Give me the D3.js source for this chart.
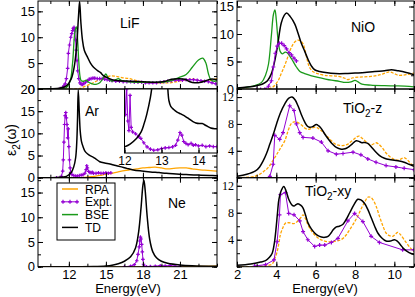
<!DOCTYPE html>
<html>
<head>
<meta charset="utf-8">
<script src="https://cdn.jsdelivr.net/npm/d3@7"></script>
<style>
body { margin: 0; background: #fff; }
svg text { font-family: "Liberation Sans", Arial, sans-serif; fill: #000; }
</style>
</head>
<body>
<div id="chart"></div>
<script>
// ---- data: [energy (eV), eps2] ----
const lifTD = [[9.5,0],[10.5,0.05],[11.3,0.2],[11.8,0.6],[12.2,2],[12.45,4.5],[12.65,9],[12.78,14],[12.87,16.9],[12.97,13],[13.1,9.5],[13.25,7.5],[13.5,6.2],[13.75,5],[14.0,4.2],[14.3,3.6],[14.55,3.2],[14.8,2.6],[15.1,2.2],[15.5,1.8],[16,1.6],[17,1.5],[18,1.4],[19,1.3],[19.8,1.5],[20.3,1.9],[20.9,2.0],[21.4,1.9],[21.8,1.4],[22.2,1.2],[22.7,1.3],[23.1,1.6],[23.5,1.9],[24,1.8]];
const lifBSE = [[9.5,0],[11,0.05],[11.8,0.3],[12.1,1.5],[12.3,5],[12.5,11.2],[12.62,12],[12.72,9],[12.8,5.5],[12.9,2.5],[13.0,1.6],[13.2,1.5],[13.4,1.7],[13.6,1.3],[13.9,1.0],[14.2,0.9],[14.5,1.2],[14.8,2.2],[15.0,2.9],[15.2,2.0],[15.5,1.5],[15.8,1.8],[16.0,2.0],[16.3,1.6],[16.8,1.4],[17.5,1.3],[18.5,1.3],[19.5,1.3],[20.3,1.6],[20.9,2.2],[21.5,2.8],[22.0,4.2],[22.5,5.6],[22.85,5.95],[23.1,5.0],[23.3,3.0],[23.5,1.8],[23.8,1.5],[24,1.6]];
const lifRPA = [[9.5,0],[12.5,0],[12.9,0.1],[13.3,0.5],[13.8,1.0],[14.3,1.6],[14.8,2.1],[15.3,2.5],[15.7,2.5],[16.3,2.2],[16.9,2.0],[17.5,1.6],[18.3,1.3],[19.2,1.2],[20.2,1.2],[20.9,1.5],[21.6,1.8],[22.1,1.9],[22.6,1.6],[23.2,1.5],[23.7,1.8],[24,2.0]];
const lifExpt = [[11.3,0.1],[11.5,0.3],[11.6,0.6],[11.7,1.0],[11.8,2.0],[11.9,4.0],[11.96,6.9],[12.05,8.5],[12.15,10],[12.23,10.7],[12.3,11.3],[12.36,11.7],[12.42,11.9],[12.48,11.2],[12.54,9.5],[12.6,7.5],[12.66,5.5],[12.72,3.5],[12.8,2.0],[12.9,1.2],[13.0,0.9],[13.1,0.9],[13.2,1.0],[13.35,1.3],[13.5,1.6],[13.65,1.9],[13.8,2.0],[13.95,2.1],[14.1,2.1],[14.3,2.0],[14.5,2.0],[14.7,2.0],[14.9,1.9],[15.1,1.8],[15.3,1.7],[15.5,1.6],[15.8,1.5],[16.1,1.5],[16.4,1.4],[16.7,1.4],[17.0,1.4],[17.3,1.3],[17.6,1.3],[17.9,1.3],[18.2,1.2],[18.5,1.2],[18.8,1.2],[19.1,1.2],[19.4,1.3],[19.7,1.4],[20.0,1.5],[20.3,1.6],[20.6,1.7],[20.9,1.7],[21.2,1.7],[21.5,1.8],[21.8,1.8],[22.1,1.8],[22.4,1.7],[22.7,1.6],[23.0,1.5],[23.3,1.4],[23.6,1.2],[23.9,1.0]];

const arTD = [[9.5,0],[11,0.05],[11.8,0.3],[12.2,1.2],[12.4,2.5],[12.55,4.5],[12.64,8],[12.7,13],[12.76,19.8],[12.84,15],[12.92,10.5],[13.02,8.2],[13.15,7.0],[13.3,6.0],[13.5,5.4],[13.75,4.9],[13.98,4.6],[14.2,4.2],[14.5,3.6],[14.9,3.3],[15.33,3.1],[15.7,2.8],[16.15,2.5],[16.7,2.1],[17.22,1.75],[17.9,1.5],[18.6,1.3],[19.3,1.15],[19.9,1.0],[20.7,0.85],[21.5,0.7],[22.5,0.6],[23.4,0.5],[24,0.45]];
const arRPA = [[9.5,0],[13,0],[13.5,0.1],[14,0.3],[14.5,0.5],[15,0.8],[15.5,1.0],[16,1.3],[16.5,1.6],[17,1.8],[17.5,2.0],[18,2.2],[18.5,2.3],[19,2.4],[19.5,2.2],[20,2.0],[20.5,2.1],[21,2.2],[21.5,2.2],[22,2.0],[22.5,1.8],[23,1.7],[23.5,1.6],[24,1.5]];
const arExpt = [[11.0,0],[11.3,0.05],[11.4,0.3],[11.5,1.5],[11.55,4],[11.6,8],[11.65,12],[11.7,14],[11.75,14.7],[11.8,13.5],[11.85,12],[11.9,9],[11.95,11],[12.0,7],[12.05,4],[12.1,2.2],[12.15,1.2],[12.25,0.7],[12.4,0.5],[12.55,0.4],[12.7,0.4],[12.85,0.5],[13.0,0.6],[13.15,0.7],[13.3,1.0],[13.4,1.8],[13.45,2.7],[13.5,2.2],[13.6,1.4],[13.7,1.2],[13.8,1.1],[13.9,1.2],[14.0,1.0],[14.2,1.0],[14.4,1.1],[14.6,1.0],[14.8,1.0],[15.0,1.1],[15.2,1.0],[15.4,1.1]];
// inset of the Ar panel (own vertical scale)
const insetTD = [[12.0,0.95],[12.15,1.4],[12.33,2.3],[12.45,3.3],[12.52,4.4],[12.6,6],[12.7,8.7],[12.76,11],[12.9,15],[13.05,15],[13.15,11.5],[13.2,8.2],[13.25,7.3],[13.33,6.8],[13.42,6.4],[13.52,6.1],[13.65,5.7],[13.75,5.3],[13.85,4.9],[13.93,4.7],[14.02,4.6],[14.1,4.6],[14.2,4.3],[14.33,3.9],[14.45,3.8],[14.55,3.8]];
const insetExpt = [[12.0,11],[12.03,6],[12.06,10],[12.09,5],[12.12,3.5],[12.15,9],[12.18,4],[12.22,3.3],[12.3,3.0],[12.38,2.6],[12.44,2.3],[12.52,1.6],[12.61,0.95],[12.7,0.6],[12.79,0.43],[12.9,0.5],[13.0,0.7],[13.1,0.8],[13.2,0.85],[13.3,0.95],[13.38,1.2],[13.44,2.0],[13.5,3.2],[13.55,2.8],[13.6,1.8],[13.66,1.5],[13.72,1.3],[13.8,1.5],[13.86,1.2],[13.92,1.3],[14.0,1.1],[14.1,1.2],[14.2,1.0],[14.3,1.1],[14.4,1.0],[14.5,1.0]];

const neTD = [[9.5,0],[14,0.05],[15,0.15],[15.5,0.3],[16,0.6],[16.5,1.1],[17,2.0],[17.4,3.8],[17.65,7],[17.85,12],[18.0,16.5],[18.08,17.5],[18.18,15.5],[18.35,10],[18.55,5.5],[18.8,3.0],[19.1,1.8],[19.5,1.1],[20,0.7],[21,0.35],[22,0.2],[24,0.1]];
const neRPA = [[9.5,0],[21,0],[22,0.05],[24,0.1]];
const neExpt = [[16.5,0],[17.0,0.1],[17.3,0.4],[17.5,1.2],[17.6,2.5],[17.7,4],[17.75,5.2],[17.8,6],[17.85,5.6],[17.9,4.5],[17.95,3],[18.0,1.5],[18.05,0.5],[18.1,0.1],[18.3,0],[18.6,0.05],[19.0,0.1],[19.4,0.2],[19.8,0.15],[20.2,0.25],[20.6,0.1],[21.0,0.05]];

const nioTD = [[2,0.2],[2.5,0.35],[3,0.6],[3.3,0.9],[3.55,1.5],[3.75,2.8],[3.9,4.8],[4.05,7.6],[4.25,12],[4.4,13.4],[4.52,13.8],[4.7,13.2],[4.94,11.8],[5.1,10.2],[5.27,8.3],[5.45,6.8],[5.61,5.4],[5.8,4.1],[5.95,3.5],[6.2,3.2],[6.5,3.0],[7.0,2.8],[7.5,2.8],[8,2.9],[8.5,3.0],[9,3.2],[9.5,3.3],[9.85,3.5],[10.2,3.3],[10.6,3.0],[11,2.6]];
const nioBSE = [[2,0.1],[2.5,0.3],[2.9,0.6],[3.25,1.2],[3.45,2.5],[3.6,4.5],[3.75,9.8],[3.85,13.5],[3.93,14.4],[4.0,12.5],[4.1,8.5],[4.2,6.8],[4.3,6.4],[4.45,6.7],[4.55,6.6],[4.77,5.5],[5.02,4.0],[5.2,3.2],[5.44,2.8],[5.8,2.4],[6.12,2.1],[6.5,1.8],[6.8,1.6],[7.2,1.4],[7.5,1.2],[7.8,1.3],[8.0,1.55],[8.15,1.3],[8.35,0.9],[8.8,0.7],[9.5,0.6],[10.2,0.55],[11,0.4]];
const nioRPA = [[2,0],[3.5,0],[3.8,0.3],[4.09,1.5],[4.25,2.8],[4.43,4.3],[4.6,6.0],[4.77,7.6],[4.95,8.6],[5.1,8.9],[5.25,8.7],[5.36,8.2],[5.45,7.2],[5.55,5.6],[5.69,3.9],[5.85,3.2],[6.1,2.8],[6.46,2.5],[7.13,2.3],[7.45,2.0],[7.64,1.7],[7.85,2.0],[8.0,2.1],[8.82,2.3],[9.3,2.6],[9.75,3.1],[10.0,2.8],[10.2,2.5],[10.6,2.6],[11,2.9]];
const nioExpt = [[3.0,-0.1],[3.2,-0.1],[3.42,-0.05],[3.6,0.5],[3.75,1.5],[3.85,4],[3.95,6.5],[4.05,7.8],[4.15,8.3],[4.27,8.3],[4.4,7.9],[4.52,7.3],[4.65,6.6],[4.77,6.2],[4.9,5.6],[5.02,5.1]];

const tizTD = [[2,0.2],[2.5,0.5],[2.94,1.0],[3.15,1.6],[3.33,2.5],[3.5,3.6],[3.67,5.0],[3.85,6.5],[4.01,8.0],[4.2,9.6],[4.43,11],[4.62,11.8],[4.8,12.0],[4.95,11.6],[5.1,10.7],[5.27,9.4],[5.44,8.3],[5.57,7.7],[5.69,7.5],[5.85,7.6],[6.03,7.9],[6.16,7.7],[6.29,7.3],[6.46,6.5],[6.63,5.8],[6.85,5.0],[7.05,4.5],[7.3,4.25],[7.5,4.3],[7.64,4.5],[7.85,5.0],[8.06,5.5],[8.2,5.4],[8.35,5.2],[8.5,5.25],[8.65,5.1],[8.82,4.6],[9.0,4.0],[9.25,3.3],[9.5,2.9],[9.75,2.7],[10.0,2.6],[10.25,2.5],[10.5,2.3],[10.75,2.0],[11,1.7]];
const tizRPA = [[2,0],[2.9,0.2],[3.3,0.8],[3.58,1.5],[3.92,3.0],[4.17,4.2],[4.43,5.5],[4.6,7.0],[4.75,8.0],[4.9,8.3],[5.1,8.2],[5.3,7.8],[5.44,7.4],[5.6,7.2],[5.75,7.3],[5.9,7.5],[6.05,7.5],[6.2,7.2],[6.37,6.8],[6.6,6.1],[6.8,5.5],[7.0,5.0],[7.22,4.8],[7.45,4.8],[7.64,5.0],[7.85,5.5],[8.05,6.0],[8.2,6.2],[8.35,5.9],[8.5,5.5],[8.7,5.0],[8.85,4.9],[9.07,5.2],[9.2,5.0],[9.4,4.4],[9.6,3.6],[9.83,3.0],[10.0,2.7],[10.2,2.6],[10.35,2.8],[10.5,3.0],[10.65,2.7],[10.8,2.2],[11,1.6]];
const tizExpt = [[3.67,0.2],[3.84,2],[3.92,6.3],[4.17,5.7],[4.34,6.7],[4.68,10.7],[4.9,10.0],[5.02,8.0],[5.19,6.7],[5.36,6.0],[5.86,5.9],[6.29,5.3],[6.63,4.0],[7.05,3.5],[7.39,3.6],[7.9,3.8],[8.3,3.4],[8.65,2.8],[9.07,2.3],[9.58,1.8],[10.08,1.6],[10.5,1.4],[11,1.2]];

const tixyTD = [[2,0.2],[2.7,0.4],[3.2,0.7],[3.45,0.9],[3.65,1.4],[3.79,2.0],[3.9,3.5],[3.98,5.5],[4.06,8],[4.13,10],[4.25,11.3],[4.38,11.9],[4.5,11.2],[4.63,10],[4.78,9.2],[4.9,9.0],[5.0,9.2],[5.1,9.35],[5.25,9.1],[5.36,8.7],[5.48,7.7],[5.61,6.5],[5.78,5.6],[5.95,5.0],[6.12,4.6],[6.29,4.4],[6.46,4.35],[6.63,4.5],[6.78,5.0],[6.9,5.5],[7.05,5.9],[7.2,6.0],[7.39,6.3],[7.55,7.0],[7.73,8.0],[7.95,9.2],[8.14,10.0],[8.3,9.9],[8.48,9.4],[8.65,8.5],[8.82,7.3],[9.0,6.0],[9.16,5.0],[9.35,4.3],[9.58,3.8],[9.8,3.8],[10.0,4.0],[10.15,3.8],[10.3,3.3],[10.5,2.6],[10.75,2.1],[11,1.8]];
const tixyRPA = [[2,0],[3.2,0.05],[3.6,0.2],[3.79,0.4],[3.92,1.2],[4.04,2.2],[4.13,3.5],[4.21,4.8],[4.35,5.9],[4.48,6.5],[4.7,6.5],[4.9,6.4],[5.1,6.8],[5.25,7.3],[5.36,7.7],[5.48,7.1],[5.61,6.2],[5.75,5.5],[5.86,5.0],[6.03,4.5],[6.2,4.1],[6.4,3.85],[6.63,3.7],[6.85,3.7],[7.05,3.8],[7.2,3.9],[7.39,4.2],[7.55,4.7],[7.73,5.5],[7.95,6.5],[8.14,7.5],[8.3,8.5],[8.48,9.5],[8.65,10.3],[8.78,10.3],[8.9,10.0],[9.07,9.0],[9.24,7.5],[9.4,6.2],[9.58,5.0],[9.75,4.6],[9.92,4.5],[10.05,4.8],[10.17,5.1],[10.3,4.8],[10.5,4.0],[10.75,3.0],[11,2.2]];
const tixyExpt = [[2.9,0.1],[3.45,0.3],[3.88,1.0],[4.04,3.7],[4.16,7.7],[4.21,10.7],[4.46,11.0],[4.63,7.9],[4.9,7.7],[5.19,6.8],[5.36,5.2],[5.6,4.0],[5.95,3.0],[6.2,3.2],[6.46,3.2],[6.8,3.6],[7.13,4.2],[7.64,6.8],[7.98,7.9],[8.4,6.7],[8.82,4.5],[9.24,3.6],[10.42,2.5],[11,2.5]];

const legendNames = ["RPA", "Expt.", "BSE", "TD"];
const leftXTicks = [12, 15, 18, 21];
const rightXTicks = [2, 4, 6, 8, 10];
const insetXTicks = [12, 13, 14];

// ---- styles ----
const colors = { RPA: "#ffa500", Expt: "#9400d3", BSE: "#1a9a1a", TD: "#000000" };

const svg = d3.select("#chart").append("svg")
    .attr("width", 415)
    .attr("height", 297);

const xLeft = d3.scaleLinear().domain([9.5, 24]).range([38, 217]);
const xRight = d3.scaleLinear().domain([2, 11]).range([237, 414]);
const rows = [[1, 89], [89, 177.7], [177.7, 266.7]];

const smooth = d3.curveCatmullRom.alpha(0.5);

function plusPath(size) {
    return `M${-size},0H${size}M0,${-size}V${size}`;
}

function drawLine(g, x, y, data, kind, opts) {
    let line = d3.line()
        .x(d => x(d[0]))
        .y(d => y(d[1]))
        .curve(kind === "Expt" ? d3.curveLinear : smooth);
    g.append("path")
        .datum(data)
        .attr("fill", "none")
        .attr("stroke", colors[kind])
        .attr("stroke-width", kind === "TD" ? 1.5 : (kind === "Expt" ? 1 : 1.3))
        .attr("stroke-dasharray", opts.dash && kind === "RPA" ? "3,1.5" : null)
        .attr("d", line);
    if (kind === "Expt") {
        g.selectAll(null).data(data).enter().append("path")
            .attr("d", plusPath(opts.marker || 2))
            .attr("transform", d => "translate(" + x(d[0]) + "," + y(d[1]) + ")")
            .attr("stroke", colors.Expt)
            .attr("stroke-width", 1.2);
    }
}

function addTicks(g, axisFn, scale, values, size, transform, fmt, font) {
    let ax = axisFn(scale)
        .tickValues(values)
        .tickSizeInner(-size)
        .tickSizeOuter(0)
        .tickPadding(3)
        .tickFormat(fmt || "");
    let a = g.append("g").attr("transform", transform).call(ax);
    a.select(".domain").remove();
    a.selectAll("line").attr("stroke", "#000").attr("stroke-width", 1);
    a.selectAll("text")
        .style("font-family", font || "Liberation Sans, Arial, sans-serif")
        .style("font-size", "13px")
        .attr("fill", "#000");
    return a;
}

let clipId = 0;
function drawPanel(p) {
    let x = p.x;
    let [top, bottom] = rows[p.row];
    let y = d3.scaleLinear().domain(p.yDomain).range([bottom, top]);
    let [x0, x1] = x.range();
    let g = svg.append("g");

    clipId++;
    svg.append("clipPath").attr("id", "clip" + clipId)
        .append("rect").attr("x", x0).attr("y", top).attr("width", x1 - x0).attr("height", bottom - top);

    let lines = g.append("g").attr("clip-path", "url(#clip" + clipId + ")");
    p.series.forEach(s => drawLine(lines, x, y, s.data, s.kind, p));

    // ticks on all four sides, pointing inward
    let xMinor = d3.range(Math.ceil(x.domain()[0] / p.xStep) * p.xStep, x.domain()[1] + 1e-6, p.xStep);
    let yMajor = d3.range(0, p.yDomain[1] + 1e-6, p.yMajor);
    let yMinor = d3.range(0, p.yDomain[1] + 1e-6, p.yMajor / 2);

    addTicks(g, d3.axisBottom, x, xMinor, 3, "translate(0," + bottom + ")");
    addTicks(g, d3.axisTop, x, xMinor, 3, "translate(0," + top + ")");
    addTicks(g, d3.axisBottom, x, p.xLabels, 5, "translate(0," + bottom + ")", p.showX ? d3.format("d") : "");
    addTicks(g, d3.axisTop, x, p.xLabels, 5, "translate(0," + top + ")");

    addTicks(g, d3.axisLeft, y, yMinor, 3, "translate(" + x0 + ",0)");
    addTicks(g, d3.axisRight, y, yMinor, 3, "translate(" + x1 + ",0)");
    addTicks(g, d3.axisLeft, y, yMajor, 5, "translate(" + x0 + ",0)",
        d => (p.skipZero && d === 0) ? "" : d3.format("d")(d), p.yFont)
        .selectAll("text").style("font-size", p.yFontSize || "13px");
    addTicks(g, d3.axisRight, y, yMajor, 5, "translate(" + x1 + ",0)");

    g.append("rect")
        .attr("x", x0).attr("y", top)
        .attr("width", x1 - x0).attr("height", bottom - top)
        .attr("fill", "none").attr("stroke", "#000").attr("stroke-width", 1);

    let t = g.append("text")
        .attr("x", p.labelPos[0]).attr("y", p.labelPos[1])
        .style("font-size", "14px");
    p.label.forEach(part => {
        let ts = t.append("tspan").text(part.t);
        if (part.sub) ts.attr("dy", 4).style("font-size", "10px");
        if (part.after) ts.attr("dy", -4);
    });
    return { g, x, y };
}

const left = { x: xLeft, xStep: 1.5, xLabels: leftXTicks };
const right = { x: xRight, xStep: 1, xLabels: rightXTicks };

drawPanel(Object.assign({}, left, {
    row: 0, yDomain: [0, 17], yMajor: 5, dash: true, marker: 1.8,
    label: [{ t: "LiF" }], labelPos: [120, 28],
    series: [{ kind: "RPA", data: lifRPA }, { kind: "Expt", data: lifExpt }, { kind: "BSE", data: lifBSE }, { kind: "TD", data: lifTD }]
}));
drawPanel(Object.assign({}, left, {
    row: 1, yDomain: [0, 20], yMajor: 5, dash: false, marker: 1.8,
    label: [{ t: "Ar" }], labelPos: [85, 116],
    series: [{ kind: "RPA", data: arRPA }, { kind: "Expt", data: arExpt }, { kind: "TD", data: arTD }]
}));
drawPanel(Object.assign({}, left, {
    row: 2, yDomain: [0, 18], yMajor: 5, dash: false, marker: 1.8, showX: true,
    label: [{ t: "Ne" }], labelPos: [168, 208],
    series: [{ kind: "RPA", data: neRPA }, { kind: "Expt", data: neExpt }, { kind: "TD", data: neTD }]
}));
drawPanel(Object.assign({}, right, {
    row: 0, yDomain: [0, 16], yMajor: 5, dash: true, marker: 2,
    label: [{ t: "NiO" }], labelPos: [351, 32],
    series: [{ kind: "RPA", data: nioRPA }, { kind: "BSE", data: nioBSE }, { kind: "TD", data: nioTD }, { kind: "Expt", data: nioExpt }]
}));
drawPanel(Object.assign({}, right, {
    row: 1, yDomain: [0, 13.2], yMajor: 4, dash: true, marker: 2, skipZero: true,
    yFont: "Liberation Serif, Times New Roman, serif", yFontSize: "12px",
    label: [{ t: "TiO" }, { t: "2", sub: true }, { t: "-z", after: true }], labelPos: [343, 113],
    series: [{ kind: "RPA", data: tizRPA }, { kind: "Expt", data: tizExpt }, { kind: "TD", data: tizTD }]
}));
drawPanel(Object.assign({}, right, {
    row: 2, yDomain: [0, 13.2], yMajor: 4, dash: true, marker: 2, skipZero: true, showX: true,
    yFont: "Liberation Serif, Times New Roman, serif", yFontSize: "12px",
    label: [{ t: "TiO" }, { t: "2", sub: true }, { t: "-xy", after: true }], labelPos: [305, 196],
    series: [{ kind: "RPA", data: tixyRPA }, { kind: "Expt", data: tixyExpt }, { kind: "TD", data: tixyTD }]
}));

// ---- inset in the Ar panel ----
const ix = d3.scaleLinear().domain([12, 14.5]).range([124.5, 217]);
const iy = d3.scaleLinear().domain([0, 10]).range([153, 89]);
const inset = svg.append("g");
inset.append("rect").attr("x", 124.5).attr("y", 89).attr("width", 92.5).attr("height", 64).attr("fill", "#fff");
svg.append("clipPath").attr("id", "clipInset")
    .append("rect").attr("x", 124.5).attr("y", 89).attr("width", 92.5).attr("height", 64);
const insetLines = inset.append("g").attr("clip-path", "url(#clipInset)");
drawLine(insetLines, ix, iy, insetExpt, "Expt", { marker: 1.8 });
drawLine(insetLines, ix, iy, insetTD, "TD", {});
addTicks(inset, d3.axisBottom, ix, d3.range(12, 14.51, 0.5), 3, "translate(0,153)");
addTicks(inset, d3.axisBottom, ix, insetXTicks, 5, "translate(0,153)", d3.format("d"))
    .selectAll("text").style("font-size", "12px");
inset.append("rect").attr("x", 124.5).attr("y", 89).attr("width", 92.5).attr("height", 64)
    .attr("fill", "none").attr("stroke", "#000").attr("stroke-width", 1);

// ---- legend ----
const legend = svg.append("g");
legend.append("rect").attr("x", 57).attr("y", 183).attr("width", 58).attr("height", 57)
    .attr("fill", "#fff").attr("stroke", "#000").attr("stroke-width", 1);
legendNames.forEach((name, i) => {
    let kind = name.replace(".", "");
    let yy = 189 + i * 12.8;
    legend.append("line").attr("x1", 62).attr("x2", 78).attr("y1", yy).attr("y2", yy)
        .attr("stroke", colors[kind]).attr("stroke-width", kind === "Expt" ? 1 : 1.5);
    if (kind === "Expt") {
        [63, 70, 77].forEach(px => legend.append("path").attr("d", plusPath(2))
            .attr("transform", "translate(" + px + "," + yy + ")")
            .attr("stroke", colors.Expt).attr("stroke-width", 1.2));
    }
    legend.append("text").attr("x", 85).attr("y", yy + 4.5).style("font-size", "12px").text(name);
});

// ---- axis titles ----
svg.append("text").attr("x", 128).attr("y", 293).attr("text-anchor", "middle")
    .style("font-size", "13px").text("Energy(eV)");
svg.append("text").attr("x", 325).attr("y", 293).attr("text-anchor", "middle")
    .style("font-size", "13px").text("Energy(eV)");
const yt = svg.append("text").attr("transform", "translate(16,140) rotate(-90)")
    .attr("text-anchor", "middle").style("font-size", "14px");
yt.append("tspan").text("ε");
yt.append("tspan").attr("dy", 4).style("font-size", "10px").text("2");
yt.append("tspan").attr("dy", -4).text("(ω)");
</script>
</body>
</html>
